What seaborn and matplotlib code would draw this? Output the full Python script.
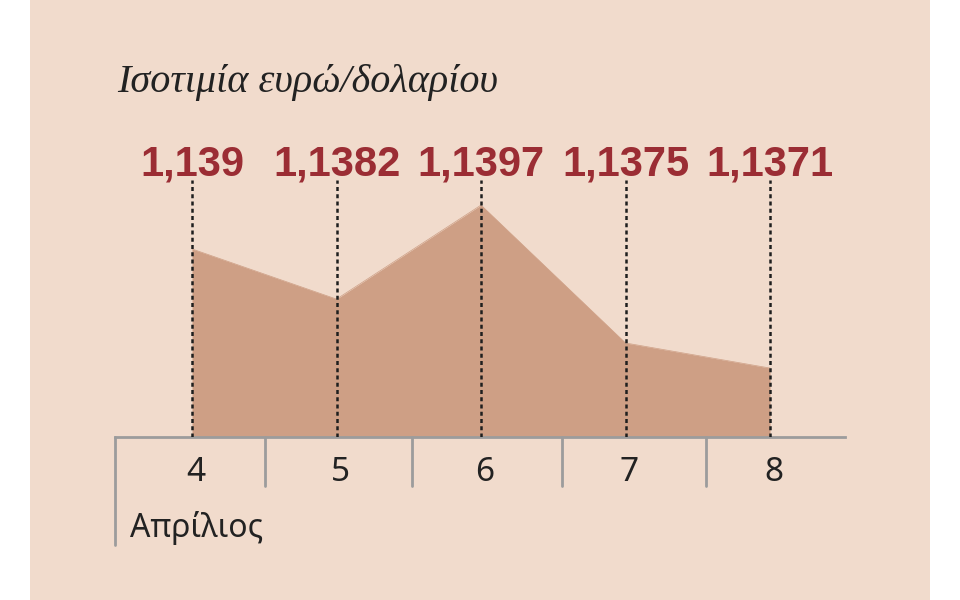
import matplotlib
matplotlib.use("Agg")
import matplotlib.pyplot as plt
import matplotlib.transforms as mtransforms
from matplotlib.patches import Rectangle
import seaborn as sns

# euro/dollar rate, April 4-8
days = [4, 5, 6, 7, 8]
rates = [1.1390, 1.1382, 1.1397, 1.1375, 1.1371]
day_labels = ["4", "5", "6", "7", "8"]
month_label = "Απρίλιος"
title = "Ισοτιμία ευρώ/δολαρίου"

bg_color = "#F1DBCC"
area_color = "#CE9F85"
red = "#9B2D34"
axis_gray = "#9C9C9C"

sns.set_style("white")

fig = plt.figure(figsize=(9.6, 6), dpi=100)
fig.patch.set_facecolor("white")
# beige panel
fig.patches.append(Rectangle((30 / 960, 0), 900 / 960, 1, transform=fig.transFigure,
                             facecolor=bg_color, edgecolor="none", zorder=-5))

ax = fig.add_axes([115 / 960, (600 - 437) / 600, 730 / 960, (437 - 180) / 600])
ax.set_zorder(2)
ax.set_facecolor("none")

# area
sns.lineplot(x=days, y=rates, ax=ax, color=area_color, lw=0.5)
ax.fill_between(days, rates, 1.136, color=area_color, lw=0, zorder=1)
ax.set_xlim(3.467, 8.519)
ax.set_ylim(1.136, 1.1401)

# dotted guides
ax.vlines(days, 1.136, 1.1401, colors="#1E1E1E", linestyles=(0, (1.6, 1.3)), lw=1.8, zorder=3)

# axis
for s in ["top", "left", "right"]:
    ax.spines[s].set_visible(False)
ax.spines["bottom"].set_color(axis_gray)
ax.spines["bottom"].set_linewidth(2)
ax.set_yticks([])
ax.set_xticks(days)
ax.set_xticklabels(day_labels, fontsize=24, color="#222222", family=["Noto Sans", "DejaVu Sans"])
ax.tick_params(axis="x", length=0, pad=14)
ax.set_xlabel("")
ax.set_ylabel("")
# nudge day labels a little to the right, as in the original
for lab in ax.get_xticklabels():
    lab.set_transform(lab.get_transform() + mtransforms.ScaledTranslation(4 / 100, 0, fig.dpi_scale_trans))

trans = mtransforms.blended_transform_factory(ax.transData, ax.transAxes)
# separators between days
for sx in [4.505, 5.52, 6.56, 7.56]:
    ax.plot([sx, sx], [0, -0.19], transform=trans, color=axis_gray, lw=2, clip_on=False)
ax.plot([3.467, 3.467], [0, -0.42], transform=trans, color=axis_gray, lw=2, clip_on=False)

# value labels
for d, r in zip(days, rates):
    ax.text(d, (437 - 175) / 257, f"{r:g}".replace(".", ","), transform=trans,
            ha="center", va="baseline", fontsize=30, fontweight="bold", color=red,
            family=["Liberation Sans", "DejaVu Sans"])

fig.text(130 / 960, 1 - 537 / 600, month_label, fontsize=23, color="#222222",
         va="baseline", ha="left", family=["Noto Sans", "DejaVu Sans"])
fig.text(117 / 960, 1 - 92 / 600, title, fontsize=29, style="italic", color="#222222",
         va="baseline", ha="left", family=["Liberation Serif", "DejaVu Serif"])

fig.savefig("out.png", dpi=100, facecolor="white")
